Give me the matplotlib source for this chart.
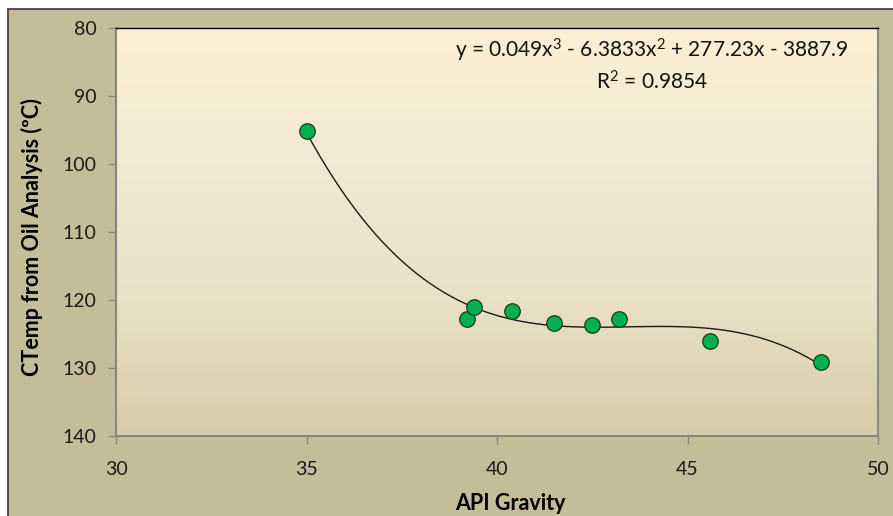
import numpy as np
import matplotlib.pyplot as plt
from matplotlib.patches import Rectangle
from matplotlib.colors import LinearSegmentedColormap

api_gravity = [35.0, 39.2, 39.4, 40.4, 41.5, 42.5, 43.2, 45.6, 48.5]
ctemp = [95.1, 122.8, 121.0, 121.6, 123.4, 123.7, 122.8, 126.0, 129.1]
x_ticks = [30, 35, 40, 45, 50]
y_ticks = [80, 90, 100, 110, 120, 130, 140]
eq_text = "y = 0.049x$^3$ - 6.3833x$^2$ + 277.23x - 3887.9"
r2_text = "R$^2$ = 0.9854"

plt.rcParams['font.family'] = ['Lato', 'DejaVu Sans']
plt.rcParams['mathtext.fontset'] = 'custom'
plt.rcParams['mathtext.rm'] = 'Lato'
plt.rcParams['mathtext.it'] = 'Lato'

W, H = 893, 516
fig = plt.figure(figsize=(W/100, H/100), dpi=100)
fig.patch.set_facecolor('white')
# chart area background with border
fig.patches.append(Rectangle((8/W, -0.01), 1.0, 1 - 9/H + 0.01, transform=fig.transFigure,
                             facecolor='#C4BD97', edgecolor='#3a3a3a', linewidth=1.2, zorder=-5))

left, right, top, bottom = 116, 878, 28, 436
ax = fig.add_axes([left/W, 1 - bottom/H, (right-left)/W, (bottom-top)/H])
ax.set_zorder(2)
ax.set_xlim(30, 50)
ax.set_ylim(140, 80)

# gradient background
cmap = LinearSegmentedColormap.from_list('bg', ['#FDEFD4', '#F1E9D3', '#E9E0C8', '#D8CBA7'])
grad = np.linspace(0, 1, 256).reshape(-1, 1)
ax.imshow(grad, aspect='auto', cmap=cmap, extent=[30, 50, 140, 80], origin='upper', zorder=0)

# trendline (cubic fit)
coef = np.polyfit(api_gravity, ctemp, 3)
xs = np.linspace(min(api_gravity), max(api_gravity), 300)
ax.plot(xs, np.polyval(coef, xs), color='#1a1a1a', linewidth=1.0, zorder=2)

ax.scatter(api_gravity, ctemp, s=125, color='#00B050', edgecolor='#1f3a1f', linewidth=0.9, zorder=3)

ax.set_xticks(x_ticks)
ax.set_yticks(y_ticks)
ax.tick_params(axis='both', direction='out', length=6, color='#868686', labelsize=14,
               labelcolor='#1a1a1a', width=1)
ax.tick_params(axis='y', pad=8)
ax.tick_params(axis='x', pad=12)

for s in ['left', 'bottom']:
    ax.spines[s].set_color('#868686')
    ax.spines[s].set_linewidth(1.5)
ax.spines['top'].set_color('#000000')
ax.spines['top'].set_linewidth(1.0)
ax.spines['right'].set_color('#8a8a80')
ax.spines['right'].set_linewidth(1.5)

ax.set_xlabel('API Gravity', fontsize=15.5, fontweight='bold')
ax.set_ylabel('CTemp from Oil Analysis (ºC)', fontsize=15.5, fontweight='bold')
ax.xaxis.set_label_coords((510 - left)/(right - left), -(503 - bottom)/(bottom - top))
ax.yaxis.set_label_coords((32 - left)/(right - left), (bottom - 237)/(bottom - top))
ax.xaxis.label.set_va('center')
ax.yaxis.label.set_va('center')

fig.text(652/W, 1 - 50/H, eq_text, ha='center', va='center', fontsize=15, color='#111111', zorder=5)
fig.text(652/W, 1 - 82/H, r2_text, ha='center', va='center', fontsize=15, color='#111111', zorder=5)

fig.savefig('out.png', dpi=100)
